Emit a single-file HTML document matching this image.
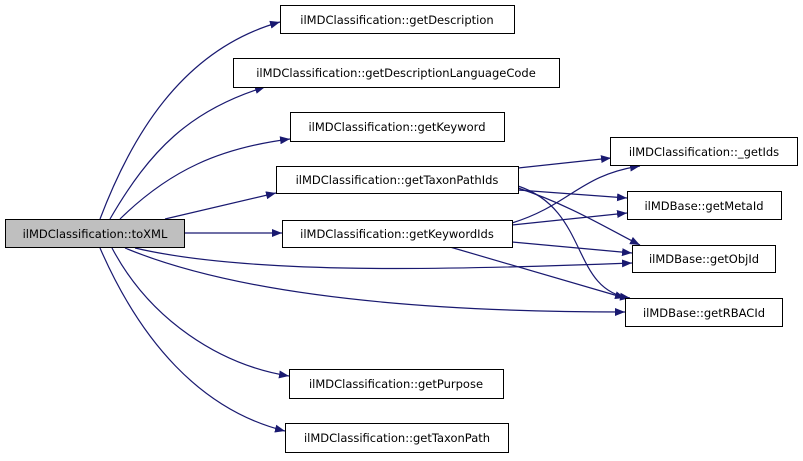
<!DOCTYPE html>
<html><head><meta charset="utf-8"><style>
html,body{margin:0;padding:0;background:#fff;width:803px;height:461px;overflow:hidden}
text{font-family:"DejaVu Sans","Liberation Sans",sans-serif;font-size:11.5px;fill:#000}
</style></head><body>
<svg width="803" height="461" viewBox="0 0 803 461" xmlns="http://www.w3.org/2000/svg">
<defs><marker id="a" markerWidth="10" markerHeight="8" refX="10" refY="4" orient="auto" markerUnits="userSpaceOnUse"><path d="M0,0 L10,4 L0,8 z" fill="#191970"/></marker></defs>
<g fill="none" stroke="#191970" stroke-width="1.2" marker-end="url(#a)">
<path d="M100,219 C130,140 180,50 280,22"/>
<path d="M110,219 C150,150 190,110 265,87"/>
<path d="M120,219 C170,170 220,148 290,139"/>
<path d="M165,219 L276,193"/>
<path d="M184,233 L282,233"/>
<path d="M135,248 C250,275 450,270 632,263"/>
<path d="M125,248 C250,300 450,312 625,312"/>
<path d="M112,248 C150,320 220,365 289,376"/>
<path d="M100,248 C140,340 200,410 285,431"/>
<path d="M518,168 L611,158"/>
<path d="M518,190 L627,198"/>
<path d="M518,188 C570,205 610,230 640,245"/>
<path d="M518,186 C590,210 570,290 630,298"/>
<path d="M512,223 C570,205 580,175 640,166"/>
<path d="M512,225 L627,213"/>
<path d="M512,242 L632,253"/>
<path d="M450,247 L625,298"/>
</g>
<g stroke="#000" stroke-width="1" fill="#fff">
<rect x="5.5" y="219.5" width="179" height="28" fill="#bfbfbf"/>
<rect x="280.5" y="5.5" width="234" height="28"/>
<rect x="233.5" y="58.5" width="326" height="29"/>
<rect x="290.5" y="112.5" width="214" height="29"/>
<rect x="276.5" y="166.5" width="242" height="27"/>
<rect x="282.5" y="220.5" width="230" height="27"/>
<rect x="289.5" y="369.5" width="214" height="29"/>
<rect x="285.5" y="423.5" width="223" height="29"/>
<rect x="610.5" y="137.5" width="187" height="28"/>
<rect x="627.5" y="191.5" width="154" height="28"/>
<rect x="632.5" y="245.5" width="143" height="27"/>
<rect x="625.5" y="298.5" width="157" height="28"/>
</g>
<g text-anchor="middle">
<text x="95" y="238">ilMDClassification::toXML</text>
<text x="397" y="24">ilMDClassification::getDescription</text>
<text x="396" y="77">ilMDClassification::getDescriptionLanguageCode</text>
<text x="397" y="131">ilMDClassification::getKeyword</text>
<text x="397" y="184">ilMDClassification::getTaxonPathIds</text>
<text x="397" y="238">ilMDClassification::getKeywordIds</text>
<text x="396" y="388">ilMDClassification::getPurpose</text>
<text x="397" y="442">ilMDClassification::getTaxonPath</text>
<text x="704" y="156">ilMDClassification::_getIds</text>
<text x="704" y="210">ilMDBase::getMetaId</text>
<text x="704" y="263">ilMDBase::getObjId</text>
<text x="704" y="317">ilMDBase::getRBACId</text>
</g>
</svg>
</body></html>
